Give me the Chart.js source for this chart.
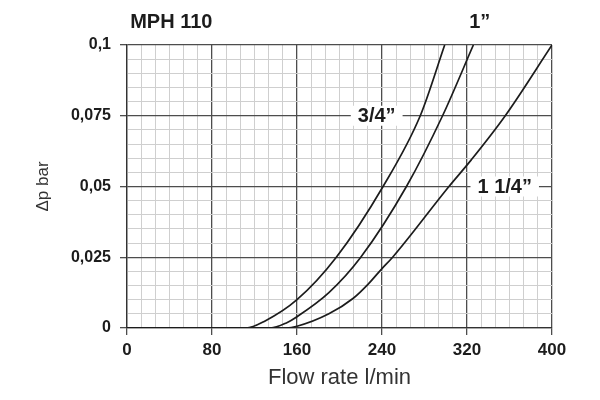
<!DOCTYPE html>
<html lang="en">
<head>
<meta charset="UTF-8">
<title>MPH 110 pressure drop</title>
<script src="https://cdn.jsdelivr.net/npm/chart.js"></script>
<style>
  html, body { margin: 0; padding: 0; background: #fff; }
  canvas { display: block; }
</style>
</head>
<body>
<canvas id="dpChart" width="600" height="400"></canvas>
<script>
  // curves: flow (l/min) -> pressure drop (bar)
  const flow34 = [0, 80, 112, 130, 160, 197, 241, 276, 299];
  const dp34   = [0, 0, 0, 0.0025, 0.01, 0.025, 0.05, 0.075, 0.1];

  const flow1 = [0, 80, 135, 150, 160, 190, 220, 263, 297, 326];
  const dp1   = [0, 0, 0, 0.0018, 0.004, 0.0125, 0.025, 0.05, 0.075, 0.1];

  const flow114 = [0, 80, 150, 160, 190, 213, 227, 240, 250, 303, 324, 356, 400];
  const dp114   = [0, 0, 0, 0.0006, 0.005, 0.0105, 0.0155, 0.021, 0.025, 0.05, 0.0594, 0.075, 0.1];

  const xTickLabels = ['0', '80', '160', '240', '320', '400'];
  const yTickLabels = ['0', '0,025', '0,05', '0,075', '0,1'];

  const FONT = '"Liberation Sans", Arial, sans-serif';
  const INK = '#1c1c1c';

  const pts = (xs, ys) => xs.map((v, i) => ({ x: v, y: ys[i] }));
  const nearMultiple = (v, step) => Math.abs(v / step - Math.round(v / step)) < 1e-6;

  // major lines every labelled tick, light minor lines in between
  function gridStyle(step) {
    return {
      color: c => nearMultiple(c.tick.value, step) ? '#4d4d4d' : '#cfcfcf',
      lineWidth: c => nearMultiple(c.tick.value, step) ? 1.3 : 1,
      tickColor: c => nearMultiple(c.tick.value, step) ? '#4d4d4d' : 'rgba(0,0,0,0)',
      tickLength: 7,
      drawTicks: true
    };
  }

  function fixedTicks(max, count) {
    return axis => {
      axis.ticks = [];
      for (let i = 0; i <= count; i++) axis.ticks.push({ value: max * i / count });
    };
  }

  const curve = (label, data) => ({
    label: label,
    data: data,
    borderColor: INK,
    borderWidth: 1.7,
    pointRadius: 0,
    fill: false,
    cubicInterpolationMode: 'monotone'
  });

  const curveLabels = {
    id: 'curveLabels',
    afterDraw(chart) {
      const { ctx, scales: { x, y } } = chart;
      ctx.save();
      ctx.font = 'bold 20px ' + FONT;
      ctx.fillStyle = INK;
      ctx.textBaseline = 'middle';

      ctx.textAlign = 'left';
      ctx.fillText('MPH 110', x.getPixelForValue(3), 22);
      ctx.textAlign = 'center';
      ctx.fillText('1\u201D', x.getPixelForValue(332), 22);

      const boxed = (txt, xv, yv) => {
        const px = x.getPixelForValue(xv);
        const py = y.getPixelForValue(yv);
        const w = ctx.measureText(txt).width + 14;
        ctx.fillStyle = '#fff';
        ctx.fillRect(px - w / 2, py - 10, w, 20);
        ctx.fillStyle = INK;
        ctx.fillText(txt, px, py + 1);
      };
      boxed('3/4\u201D', 235, 0.075);
      boxed('1 1/4\u201D', 355.5, 0.05);
      ctx.restore();
    }
  };

  new Chart(document.getElementById('dpChart'), {
    type: 'line',
    data: {
      datasets: [
        curve('3/4"', pts(flow34, dp34)),
        curve('1"', pts(flow1, dp1)),
        curve('1 1/4"', pts(flow114, dp114))
      ]
    },
    options: {
      responsive: false,
      animation: false,
      layout: { padding: { top: 45, right: 48, left: 0, bottom: 0 } },
      plugins: {
        legend: { display: false },
        tooltip: { enabled: false }
      },
      scales: {
        x: {
          type: 'linear',
          min: 0,
          max: 400,
          afterBuildTicks: fixedTicks(400, 30),
          afterFit: axis => { axis.height = 72; },
          grid: gridStyle(80),
          border: { color: '#333', width: 1.3 },
          ticks: {
            autoSkip: false,
            maxRotation: 0,
            padding: 5,
            color: INK,
            font: { family: FONT, size: 17, weight: 'bold' },
            callback: v => nearMultiple(v, 80) ? xTickLabels[Math.round(v / 80)] : ''
          },
          title: {
            display: true,
            text: 'Flow rate l/min',
            color: '#333',
            font: { family: FONT, size: 22 },
            padding: { top: 0, bottom: 9 }
          }
        },
        y: {
          min: 0,
          max: 0.1,
          afterBuildTicks: fixedTicks(0.1, 20),
          afterFit: axis => { axis.width = 127; },
          grid: gridStyle(0.025),
          border: { color: '#333', width: 1.3 },
          ticks: {
            autoSkip: false,
            padding: 9,
            color: INK,
            font: { family: FONT, size: 16, weight: 'bold' },
            callback: v => nearMultiple(v, 0.025) ? yTickLabels[Math.round(v / 0.025)] : ''
          },
          title: {
            display: true,
            text: '\u0394p bar',
            color: '#333',
            font: { family: FONT, size: 17 },
            padding: { top: 33, bottom: 0 }
          }
        }
      }
    },
    plugins: [curveLabels]
  });
</script>
</body>
</html>
